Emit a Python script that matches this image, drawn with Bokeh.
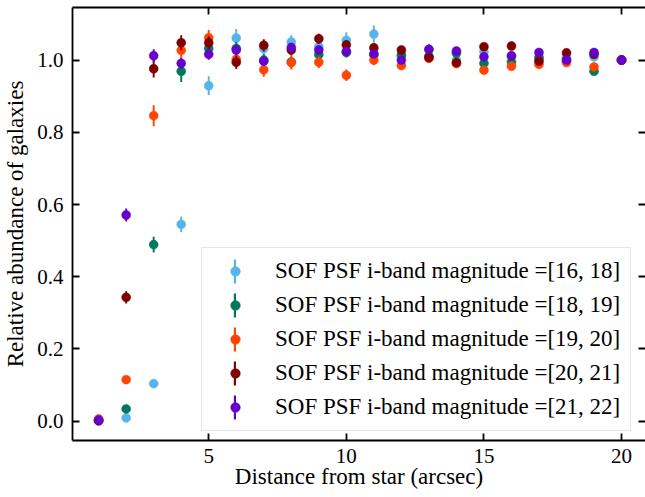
from bokeh.plotting import figure
from bokeh.models import (ColumnDataSource, Legend, LegendItem, LinearAxis,
                          FixedTicker, PrintfTickFormatter, Range1d)
from bokeh.embed import file_html
from bokeh.resources import INLINE

# ---------------- data ----------------
distance = [1, 2, 3, 4, 5, 6, 7, 8, 9, 10, 11, 12, 13, 14, 15, 16, 17, 18, 19, 20]

labels = [
    "SOF PSF i-band magnitude =[16, 18]",
    "SOF PSF i-band magnitude =[18, 19]",
    "SOF PSF i-band magnitude =[19, 20]",
    "SOF PSF i-band magnitude =[20, 21]",
    "SOF PSF i-band magnitude =[21, 22]",
]
colors = ["#56B4E9", "#00785A", "#FF4500", "#800000", "#6600CC"]

abund_16_18 = [0.002, 0.009, 0.104, 0.545, 0.929, 1.061, 1.032, 1.050, 1.037, 1.055,
               1.072, 1.012, 1.028, 1.000, 1.023, 1.010, 1.005, 1.008, 1.009, 1.000]
err_16_18 = [0.003, 0.004, 0.006, 0.022, 0.026, 0.025, 0.022, 0.019, 0.020, 0.022,
             0.024, 0.018, 0.017, 0.016, 0.017, 0.015, 0.014, 0.013, 0.012, 0.0]

abund_18_19 = [0.002, 0.034, 0.489, 0.969, 1.032, 1.032, 1.000, 0.995, 1.015, 1.021,
               1.015, 1.014, 1.010, 1.019, 0.991, 0.995, 1.007, 1.000, 0.969, 1.000]
err_18_19 = [0.002, 0.006, 0.022, 0.030, 0.020, 0.018, 0.016, 0.015, 0.014, 0.014,
             0.013, 0.012, 0.011, 0.011, 0.010, 0.010, 0.010, 0.009, 0.009, 0.0]

abund_19_20 = [0.006, 0.115, 0.846, 1.027, 1.062, 1.002, 0.973, 0.993, 0.994, 0.958,
               1.000, 0.985, 1.005, 0.990, 0.972, 0.983, 0.988, 0.993, 0.981, 1.000]
err_19_20 = [0.002, 0.006, 0.029, 0.020, 0.021, 0.016, 0.019, 0.019, 0.016, 0.016,
             0.014, 0.012, 0.011, 0.011, 0.010, 0.010, 0.009, 0.009, 0.009, 0.0]

abund_20_21 = [0.001, 0.343, 0.976, 1.048, 1.048, 0.994, 1.041, 1.028, 1.059, 1.042,
               1.034, 1.028, 1.007, 0.993, 1.037, 1.039, 0.997, 1.020, 1.016, 1.000]
err_20_21 = [0.001, 0.017, 0.024, 0.021, 0.018, 0.019, 0.017, 0.015, 0.014, 0.013,
             0.012, 0.011, 0.010, 0.010, 0.009, 0.009, 0.009, 0.008, 0.008, 0.0]

abund_21_22 = [0.003, 0.571, 1.012, 0.991, 1.016, 1.028, 0.997, 1.035, 1.028, 1.024,
               1.017, 1.000, 1.030, 1.025, 1.009, 1.012, 1.021, 1.000, 1.021, 1.000]
err_21_22 = [0.001, 0.018, 0.018, 0.016, 0.015, 0.014, 0.013, 0.012, 0.011, 0.010,
             0.010, 0.009, 0.009, 0.008, 0.008, 0.008, 0.007, 0.007, 0.007, 0.0]

series = [
    (abund_16_18, err_16_18),
    (abund_18_19, err_18_19),
    (abund_19_20, err_19_20),
    (abund_20_21, err_20_21),
    (abund_21_22, err_21_22),
]

x_ticks = [5, 10, 15, 20]
y_ticks = [0.0, 0.2, 0.4, 0.6, 0.8, 1.0]

SERIF = "Liberation Serif"
LW = 1.8

# ---------------- figure ----------------
p = figure(width=645, height=497, output_backend="svg", toolbar_location=None,
           x_range=Range1d(0.05, 20.87), y_range=Range1d(-0.0535, 1.1456),
           min_border_left=71, min_border_right=0, min_border_top=7,
           min_border_bottom=57,
           x_axis_label="Distance from star (arcsec)",
           y_axis_label="Relative abundance of galaxies")
p.outline_line_color = None
p.grid.visible = False
p.background_fill_color = "white"
p.border_fill_color = "white"


def style_axis(ax, ticks, show_labels=True):
    ax.ticker = FixedTicker(ticks=ticks)
    ax.major_tick_in = 7
    ax.major_tick_out = 0
    ax.major_tick_line_width = LW
    ax.major_tick_line_color = "black"
    ax.minor_tick_line_color = None
    ax.axis_line_width = LW
    ax.axis_line_color = "black"
    if show_labels:
        ax.major_label_text_font = SERIF
        ax.major_label_text_font_size = "21px"
        ax.major_label_text_color = "black"
        ax.major_label_text_line_height = 1.0
        ax.axis_label_text_font = SERIF
        ax.axis_label_text_font_size = "23px"
        ax.axis_label_text_font_style = "normal"
        ax.axis_label_text_color = "black"
        ax.axis_label_text_line_height = 1.0
    else:
        ax.major_label_text_font_size = "1px"
        ax.major_label_text_alpha = 0
        ax.major_label_standoff = 0


xa = p.xaxis[0]
style_axis(xa, x_ticks)
xa.major_label_standoff = 8
xa.axis_label_standoff = -2

ya = p.yaxis[0]
style_axis(ya, y_ticks)
ya.formatter = PrintfTickFormatter(format="%.1f")
ya.major_label_standoff = 9
ya.axis_label_standoff = 6

top_ax = LinearAxis()
style_axis(top_ax, x_ticks, show_labels=False)
p.add_layout(top_ax, "above")

right_ax = LinearAxis()
style_axis(right_ax, y_ticks, show_labels=False)
right_ax.axis_line_color = None
p.add_layout(right_ax, "right")

# ---------------- data glyphs ----------------
marker_items = []
bar_items = []
for (vals, errs), col, lab in zip(series, colors, labels):
    src = ColumnDataSource(dict(
        x=distance, y=vals,
        lo=[v - e for v, e in zip(vals, errs)],
        hi=[v + e for v, e in zip(vals, errs)],
    ))
    bars = p.vbar(x="x", bottom="lo", top="hi", width=0.07, source=src,
                  fill_color=col, line_color=None)
    dots = p.scatter(x="x", y="y", size=9, source=src, fill_color=col,
                     line_color=col, line_width=0.5)
    marker_items.append(LegendItem(label=lab, renderers=[dots]))
    bar_items.append(LegendItem(label=" ", renderers=[bars]))

legend_main = Legend(items=marker_items, location=(129, 9), padding=10, spacing=8,
                     glyph_width=46, glyph_height=24, label_height=26,
                     label_standoff=17, label_text_font=SERIF,
                     label_text_font_size="23px", label_text_color="black",
                     border_line_color="#cccccc", border_line_width=1,
                     background_fill_color="white", background_fill_alpha=0.8,
                     margin=0)
p.add_layout(legend_main)

legend_bars = Legend(items=bar_items, location=(160.5, 18), padding=0, spacing=4,
                     glyph_width=3, glyph_height=30, label_height=30,
                     label_standoff=0, label_text_font_size="10px",
                     border_line_color=None, background_fill_alpha=0,
                     margin=0)
p.add_layout(legend_bars)

open("out.html", "w").write(file_html(p, INLINE))
